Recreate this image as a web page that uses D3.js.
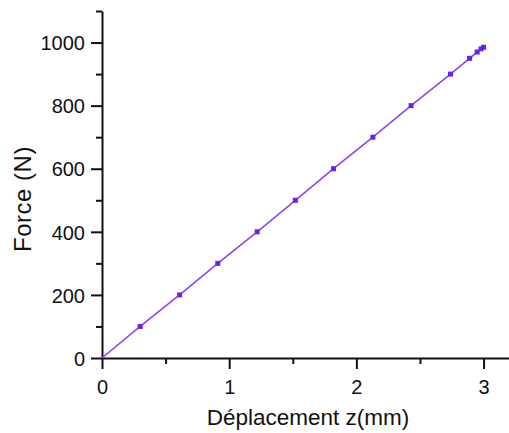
<!DOCTYPE html>
<html>
<head>
<meta charset="utf-8">
<script src="https://cdn.jsdelivr.net/npm/d3@7"></script>
<style>
  body { margin: 0; background: #fff; }
  svg { display: block; font-family: "Liberation Sans", Arial, sans-serif; }
</style>
</head>
<body>
<svg id="chart" width="509" height="433"></svg>
<script>
"use strict";

var deplacement = [0, 0.30, 0.61, 0.91, 1.22, 1.52, 1.82, 2.13, 2.43, 2.74, 2.89, 2.95, 2.98, 3.00];
var force = [0, 100, 200, 300, 400, 500, 600, 700, 800, 900, 950, 970, 980, 985];

var ticksX = [0, 1, 2, 3];
var ticksXMineurs = [0.5, 1.5, 2.5];
var ticksY = [0, 200, 400, 600, 800, 1000];
var ticksYMineurs = [100, 300, 500, 700, 900, 1100];

var marge = {haut: 11, droite: 0, bas: 75, gauche: 102};
var largeur = 509 - marge.gauche - marge.droite;
var hauteur = 433 - marge.haut - marge.bas;

var svg = d3.select("#chart");
var g = svg.append("g").attr("transform", "translate(" + marge.gauche + "," + marge.haut + ")");

var x = d3.scaleLinear().domain([0, 3.2]).range([0, largeur]);
var y = d3.scaleLinear().domain([0, 1100]).range([hauteur, 0]);

// ticks mineurs
g.append("g").attr("class", "mineur").attr("transform", "translate(0," + hauteur + ")")
    .call(d3.axisBottom(x).tickValues(ticksXMineurs).tickSize(6).tickFormat(""));
g.append("g").attr("class", "mineur")
    .call(d3.axisLeft(y).tickValues(ticksYMineurs).tickSize(6).tickFormat(""));

// axes principaux
var axeX = g.append("g").attr("transform", "translate(0," + hauteur + ")")
    .call(d3.axisBottom(x).tickValues(ticksX).tickSize(11).tickSizeOuter(0).tickPadding(11).tickFormat(d3.format("d")));
var axeY = g.append("g")
    .call(d3.axisLeft(y).tickValues(ticksY).tickSize(11).tickSizeOuter(0).tickPadding(6).tickFormat(d3.format("d")));

svg.selectAll(".domain, .tick line").attr("stroke", "#111").attr("stroke-width", 2);
svg.selectAll(".mineur .domain").remove();
svg.selectAll(".tick text").attr("font-size", 20).attr("fill", "#111")
    .attr("font-family", "'Liberation Sans', Arial, sans-serif");
axeY.selectAll(".tick text").attr("dy", "0.36em");

// courbe
var points = deplacement.map(function(d, i) { return [d, force[i]]; });
var ligne = d3.line().x(function(d) { return x(d[0]); }).y(function(d) { return y(d[1]); });

g.append("path").datum(points).attr("d", ligne)
    .attr("fill", "none").attr("stroke", "#8f44f2").attr("stroke-width", 1.6);

g.selectAll("rect.point").data(points.slice(1)).enter().append("rect")
    .attr("class", "point")
    .attr("x", function(d) { return x(d[0]) - 2.5; })
    .attr("y", function(d) { return y(d[1]) - 2.5; })
    .attr("width", 5).attr("height", 5)
    .attr("fill", "#6a22e6");

// titres des axes
svg.append("text").attr("x", 308).attr("y", 425)
    .attr("text-anchor", "middle").attr("font-size", 22.5).attr("fill", "#111")
    .text("Déplacement z(mm)");

svg.append("text").attr("transform", "translate(31,199) rotate(-90)")
    .attr("text-anchor", "middle").attr("font-size", 24).attr("letter-spacing", 0.5).attr("fill", "#111")
    .text("Force (N)");
</script>
</body>
</html>
